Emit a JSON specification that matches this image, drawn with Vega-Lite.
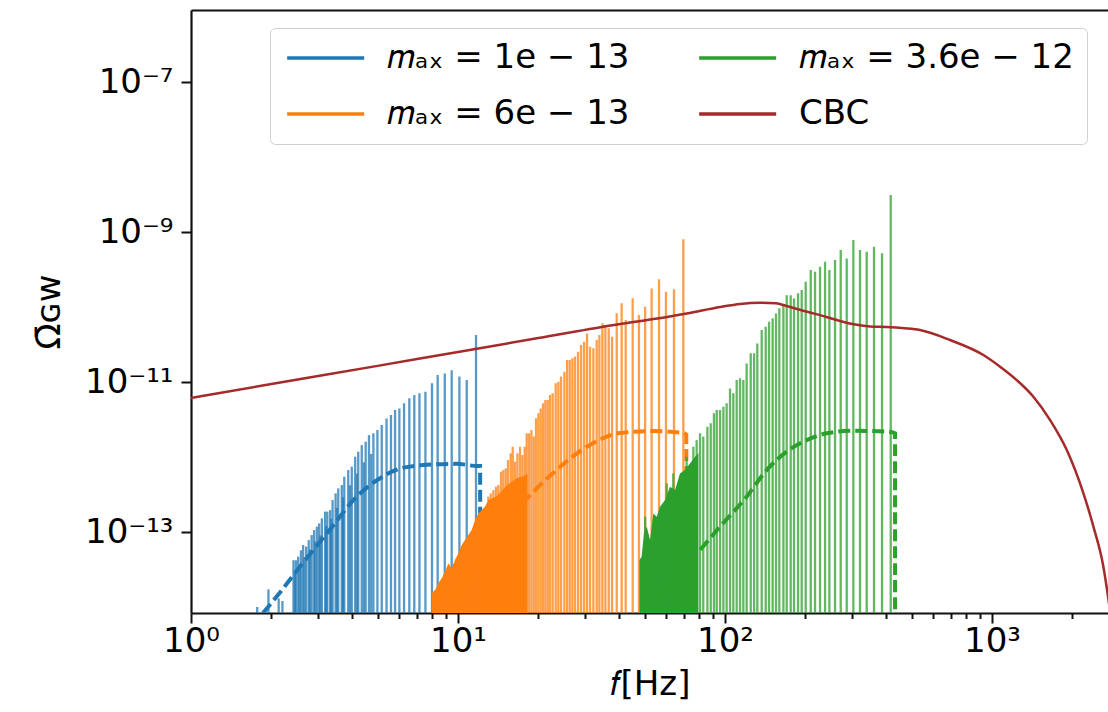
{
  "$schema": "https://vega.github.io/schema/vega-lite/v6.json",
  "width": 917,
  "height": 603,
  "autosize": {"type": "none"},
  "padding": {"left": 191, "top": 10, "right": 0, "bottom": 99},
  "background": "white",
  "config": {
    "view": {"stroke": null},
    "font": "DejaVu Sans",
    "axis": {
      "labelFont": "DejaVu Sans", "titleFont": "DejaVu Sans",
      "labelColor": "#000", "titleColor": "#000",
      "domainColor": "#111", "domainWidth": 2.2,
      "tickColor": "#111", "tickWidth": 2, "grid": false,
      "labelFontSize": 34, "titleFontSize": 34, "titleFontWeight": "normal"
    }
  },
  "datasets": {
    "sp": [
      {"s":"a","f":1.77,"v":1.0e-14},{"s":"a","f":1.95,"v":1.72e-14},{"s":"a","f":2.13,"v":1.3e-14},{"s":"a","f":2.2,"v":1.2e-14},
      {"s":"a","f":2.42,"v":4.2e-14},{"s":"a","f":2.47,"v":4.2e-14},{"s":"a","f":2.52,"v":4.7e-14},{"s":"a","f":2.58,"v":5.7e-14},
      {"s":"a","f":2.63,"v":6.7e-14},{"s":"a","f":2.70,"v":6.4e-14},{"s":"a","f":2.76,"v":7.8e-14},{"s":"a","f":2.83,"v":9.1e-14},
      {"s":"a","f":2.89,"v":1.06e-13},{"s":"a","f":2.96,"v":1.18e-13},{"s":"a","f":3.02,"v":1.30e-13},{"s":"a","f":3.09,"v":1.52e-13},
      {"s":"a","f":3.18,"v":1.87e-13},{"s":"a","f":3.24,"v":1.87e-13},{"s":"a","f":3.32,"v":1.96e-13},{"s":"a","f":3.39,"v":2.67e-13},
      {"s":"a","f":3.48,"v":3.27e-13},{"s":"a","f":3.56,"v":3.82e-13},{"s":"a","f":3.67,"v":4.23e-13},{"s":"a","f":3.75,"v":5.46e-13},
      {"s":"a","f":3.88,"v":6.7e-13},{"s":"a","f":4.00,"v":7.43e-13},{"s":"a","f":4.12,"v":1.01e-12},{"s":"a","f":4.23,"v":1.18e-12},
      {"s":"a","f":4.36,"v":1.44e-12},{"s":"a","f":4.51,"v":1.60e-12},{"s":"a","f":4.64,"v":1.96e-12},{"s":"a","f":4.82,"v":2.07e-12},
      {"s":"a","f":4.99,"v":2.29e-12},{"s":"a","f":5.18,"v":2.67e-12},{"s":"a","f":5.40,"v":3.27e-12},{"s":"a","f":5.61,"v":3.63e-12},
      {"s":"a","f":5.81,"v":4.23e-12},{"s":"a","f":6.03,"v":4.45e-12},{"s":"a","f":6.28,"v":5.19e-12},{"s":"a","f":6.57,"v":6.05e-12},
      {"s":"a","f":6.86,"v":6.7e-12},{"s":"a","f":7.17,"v":7.06e-12},{"s":"a","f":7.55,"v":7.43e-12},{"s":"a","f":7.99,"v":9.6e-12},
      {"s":"a","f":8.39,"v":1.24e-11},{"s":"a","f":8.92,"v":1.30e-11},{"s":"a","f":9.47,"v":1.44e-11},{"s":"a","f":10.12,"v":1.18e-11},
      {"s":"a","f":10.78,"v":1.06e-11},{"s":"a","f":11.68,"v":4.23e-11},
      {"s":"a","f":2.45,"v":3.0e-14},{"s":"a","f":2.55,"v":3.6e-14},{"s":"a","f":2.66,"v":4.6e-14},{"s":"a","f":2.79,"v":5.8e-14},
      {"s":"a","f":2.92,"v":7.5e-14},{"s":"a","f":3.05,"v":9.0e-14},{"s":"a","f":3.21,"v":1.2e-13},{"s":"a","f":3.35,"v":1.5e-13},
      {"s":"a","f":3.52,"v":2.1e-13},{"s":"a","f":3.71,"v":2.9e-13},{"s":"a","f":3.94,"v":4.2e-13},{"s":"a","f":4.18,"v":6.0e-13},
      {"s":"a","f":4.44,"v":8.5e-13},{"s":"a","f":4.73,"v":1.1e-12},
      {"s":"b","f":12.99,"v":2.96e-13},{"s":"b","f":13.26,"v":3.28e-13},{"s":"b","f":13.57,"v":3.63e-13},{"s":"b","f":13.88,"v":4.02e-13},
      {"s":"b","f":14.16,"v":4.23e-13},{"s":"b","f":14.49,"v":6.37e-13},{"s":"b","f":14.78,"v":6.71e-13},{"s":"b","f":15.09,"v":7.06e-13},
      {"s":"b","f":15.39,"v":9.12e-13},{"s":"b","f":15.75,"v":1.12e-12},{"s":"b","f":16.03,"v":1.37e-12},{"s":"b","f":16.35,"v":8.67e-13},
      {"s":"b","f":16.69,"v":1.12e-12},{"s":"b","f":17.07,"v":1.37e-12},{"s":"b","f":17.42,"v":1.06e-12},{"s":"b","f":17.77,"v":1.37e-12},
      {"s":"b","f":18.08,"v":2.07e-12},{"s":"b","f":18.45,"v":2.07e-12},{"s":"b","f":18.83,"v":2.29e-12},{"s":"b","f":19.21,"v":1.87e-12},
      {"s":"b","f":19.60,"v":3.28e-12},{"s":"b","f":20.00,"v":3.82e-12},{"s":"b","f":20.40,"v":4.45e-12},{"s":"b","f":20.82,"v":5.2e-12},
      {"s":"b","f":21.24,"v":5.75e-12},{"s":"b","f":21.67,"v":5.75e-12},{"s":"b","f":22.11,"v":6.71e-12},{"s":"b","f":22.62,"v":7.06e-12},
      {"s":"b","f":23.22,"v":9.6e-12},{"s":"b","f":23.76,"v":1.01e-11},{"s":"b","f":24.31,"v":1.18e-11},{"s":"b","f":25.02,"v":1.37e-11},
      {"s":"b","f":25.61,"v":1.96e-11},{"s":"b","f":26.20,"v":1.96e-11},{"s":"b","f":26.81,"v":2.07e-11},{"s":"b","f":27.43,"v":2.18e-11},
      {"s":"b","f":28.15,"v":2.54e-11},{"s":"b","f":28.89,"v":3.11e-11},{"s":"b","f":29.65,"v":3.45e-11},{"s":"b","f":30.42,"v":4.45e-11},
      {"s":"b","f":31.22,"v":2.96e-11},{"s":"b","f":32.13,"v":2.81e-11},{"s":"b","f":33.07,"v":3.63e-11},{"s":"b","f":33.84,"v":4.23e-11},
      {"s":"b","f":34.73,"v":6.05e-11},{"s":"b","f":35.64,"v":5.75e-11},{"s":"b","f":36.68,"v":5.2e-11},{"s":"b","f":37.75,"v":4.02e-11},
      {"s":"b","f":39.30,"v":8.24e-11},{"s":"b","f":41.0,"v":1.12e-10},{"s":"b","f":42.46,"v":6.71e-11},{"s":"b","f":45.1,"v":1.31e-10},
      {"s":"b","f":47.6,"v":7.8e-11},{"s":"b","f":50.2,"v":1.01e-10},{"s":"b","f":53.1,"v":1.77e-10},{"s":"b","f":56.6,"v":2.34e-10},
      {"s":"b","f":60.1,"v":1.6e-10},{"s":"b","f":64.4,"v":1.72e-10},{"s":"b","f":69.8,"v":7.98e-10},
      {"s":"c","f":50.2,"v":1.6e-13},{"s":"c","f":60.5,"v":4.46e-13},{"s":"c","f":64.0,"v":6.05e-13},{"s":"c","f":71.8,"v":1.01e-12},
      {"s":"c","f":76.1,"v":1.37e-12},{"s":"c","f":78.3,"v":1.68e-12},{"s":"c","f":80.6,"v":2.07e-12},{"s":"c","f":82.9,"v":1.87e-12},
      {"s":"c","f":85.9,"v":2.54e-12},{"s":"c","f":88.4,"v":2.81e-12},{"s":"c","f":90.9,"v":3.82e-12},{"s":"c","f":93.1,"v":4.23e-12},
      {"s":"c","f":95.8,"v":4.23e-12},{"s":"c","f":98.6,"v":4.69e-12},{"s":"c","f":101.4,"v":5.19e-12},{"s":"c","f":104.4,"v":8.2e-12},
      {"s":"c","f":107.4,"v":7.06e-12},{"s":"c","f":110.6,"v":1.06e-11},{"s":"c","f":113.8,"v":1.12e-11},{"s":"c","f":117.1,"v":1.06e-11},
      {"s":"c","f":120.5,"v":1.77e-11},{"s":"c","f":124.8,"v":2.41e-11},{"s":"c","f":128.5,"v":2.41e-11},{"s":"c","f":132.1,"v":3.27e-11},
      {"s":"c","f":137.2,"v":4.93e-11},{"s":"c","f":142.0,"v":5.46e-11},{"s":"c","f":146.2,"v":6.37e-11},{"s":"c","f":150.8,"v":7.06e-11},
      {"s":"c","f":155.2,"v":8.2e-11},{"s":"c","f":159.7,"v":9.6e-11},{"s":"c","f":165.4,"v":1.06e-10},{"s":"c","f":170.2,"v":1.44e-10},
      {"s":"c","f":176.2,"v":1.44e-10},{"s":"c","f":181.3,"v":1.3e-10},{"s":"c","f":187.7,"v":1.52e-10},{"s":"c","f":193.7,"v":1.68e-10},
      {"s":"c","f":200.5,"v":2.17e-10},{"s":"c","f":209.4,"v":3.11e-10},{"s":"c","f":217.3,"v":2.96e-10},{"s":"c","f":226.9,"v":3.44e-10},
      {"s":"c","f":236.9,"v":4.02e-10},{"s":"c","f":245.9,"v":3.11e-10},{"s":"c","f":258.2,"v":4.23e-10},{"s":"c","f":271.2,"v":5.75e-10},
      {"s":"c","f":285.6,"v":4.45e-10},{"s":"c","f":302.4,"v":7.82e-10},{"s":"c","f":320.3,"v":5.75e-10},{"s":"c","f":339.3,"v":5.46e-10},
      {"s":"c","f":361.4,"v":6.37e-10},{"s":"c","f":387.3,"v":5.19e-10},{"s":"c","f":417.4,"v":3.11e-9}
    ],
    "ar": [
      {"s":"b","f":7.97,"v":1.52e-14},{"s":"b","f":8.2,"v":1.69e-14},{"s":"b","f":8.44,"v":2.07e-14},{"s":"b","f":8.69,"v":2.41e-14},
      {"s":"b","f":8.94,"v":2.96e-14},{"s":"b","f":9.2,"v":3.82e-14},{"s":"b","f":9.47,"v":3.28e-14},{"s":"b","f":9.74,"v":4.23e-14},
      {"s":"b","f":10.03,"v":5.2e-14},{"s":"b","f":10.32,"v":6.71e-14},{"s":"b","f":10.62,"v":7.82e-14},{"s":"b","f":10.93,"v":9.12e-14},
      {"s":"b","f":11.25,"v":1.06e-13},{"s":"b","f":11.58,"v":1.45e-13},{"s":"b","f":11.92,"v":1.77e-13},{"s":"b","f":12.27,"v":1.96e-13},
      {"s":"b","f":12.63,"v":2.18e-13},{"s":"b","f":12.99,"v":2.67e-13},{"s":"b","f":13.96,"v":3.0e-13},{"s":"b","f":15.22,"v":4.2e-13},
      {"s":"b","f":16.59,"v":5.2e-13},{"s":"b","f":17.6,"v":5.6e-13},{"s":"b","f":18.2,"v":6.0e-13},
      {"s":"c","f":47.8,"v":4.23e-14},{"s":"c","f":48.7,"v":4.69e-14},{"s":"c","f":49.7,"v":9.6e-14},{"s":"c","f":50.9,"v":1.18e-13},
      {"s":"c","f":52.4,"v":7.82e-14},{"s":"c","f":53.9,"v":1.77e-13},{"s":"c","f":55.5,"v":1.6e-13},{"s":"c","f":57.1,"v":2.17e-13},
      {"s":"c","f":59.6,"v":2.67e-13},{"s":"c","f":62.2,"v":4.02e-13},{"s":"c","f":65.0,"v":3.63e-13},{"s":"c","f":67.8,"v":6.05e-13},
      {"s":"c","f":70.8,"v":6.7e-13},{"s":"c","f":73.9,"v":8.2e-13},{"s":"c","f":77.2,"v":1.01e-12},{"s":"c","f":79.5,"v":1.12e-12}
    ],
    "da": [
      {"s":"a","f":1.86,"v":8.3e-15},{"s":"a","f":2.15,"v":1.55e-14},{"s":"a","f":2.63,"v":3.9e-14},{"s":"a","f":3.31,"v":1.07e-13},
      {"s":"a","f":4.17,"v":2.95e-13},{"s":"a","f":4.97,"v":4.9e-13},{"s":"a","f":5.9,"v":6.8e-13},{"s":"a","f":7.4,"v":7.8e-13},
      {"s":"a","f":9.9,"v":8.1e-13},{"s":"a","f":11.8,"v":7.6e-13},{"s":"a","f":12.1,"v":7.6e-13},{"s":"a","f":12.11,"v":6e-15},
      {"s":"b","f":8.8,"v":8e-15},{"s":"b","f":10.5,"v":2.2e-14},{"s":"b","f":12.8,"v":5.25e-14},{"s":"b","f":17.0,"v":2.15e-13},
      {"s":"b","f":22.7,"v":6.12e-13},{"s":"b","f":30.3,"v":1.36e-12},{"s":"b","f":40.4,"v":2.09e-12},{"s":"b","f":53.8,"v":2.22e-12},
      {"s":"b","f":69.6,"v":2.09e-12},{"s":"b","f":71.6,"v":2.0e-12},{"s":"b","f":71.65,"v":5e-15},
      {"s":"c","f":55,"v":1.2e-14},{"s":"c","f":65,"v":2.4e-14},{"s":"c","f":80.6,"v":5.75e-14},{"s":"c","f":95.8,"v":1.18e-13},
      {"s":"c","f":120.5,"v":2.96e-13},{"s":"c","f":143.2,"v":6.7e-13},{"s":"c","f":170.2,"v":1.18e-12},{"s":"c","f":202.2,"v":1.68e-12},
      {"s":"c","f":240.3,"v":2.07e-12},{"s":"c","f":302.4,"v":2.24e-12},{"s":"c","f":403.1,"v":2.18e-12},{"s":"c","f":433.2,"v":2.07e-12},
      {"s":"c","f":433.3,"v":5e-15}
    ],
    "cbc": [
      {"s":"CBC","f":1,"v":6.12e-12},{"s":"CBC","f":2,"v":9.4e-12},{"s":"CBC","f":5,"v":1.64e-11},{"s":"CBC","f":10,"v":2.52e-11},
      {"s":"CBC","f":20,"v":3.85e-11},{"s":"CBC","f":40,"v":5.89e-11},{"s":"CBC","f":54,"v":6.9e-11},{"s":"CBC","f":72,"v":8.2e-11},
      {"s":"CBC","f":96,"v":1.0e-10},{"s":"CBC","f":114,"v":1.1e-10},{"s":"CBC","f":135,"v":1.14e-10},{"s":"CBC","f":155,"v":1.12e-10},
      {"s":"CBC","f":170,"v":1.03e-10},{"s":"CBC","f":196,"v":8.93e-11},{"s":"CBC","f":227,"v":7.8e-11},{"s":"CBC","f":262,"v":6.7e-11},
      {"s":"CBC","f":300,"v":5.93e-11},{"s":"CBC","f":349,"v":5.5e-11},{"s":"CBC","f":403,"v":5.4e-11},{"s":"CBC","f":470,"v":5.2e-11},
      {"s":"CBC","f":537,"v":4.93e-11},{"s":"CBC","f":696,"v":3.63e-11},{"s":"CBC","f":928,"v":2.29e-11},{"s":"CBC","f":1072,"v":1.6e-11},
      {"s":"CBC","f":1237,"v":1.06e-11},{"s":"CBC","f":1428,"v":6.37e-12},{"s":"CBC","f":1650,"v":3.11e-12},{"s":"CBC","f":1905,"v":1.24e-12},
      {"s":"CBC","f":2199,"v":3.28e-13},{"s":"CBC","f":2397,"v":1.18e-13},{"s":"CBC","f":2612,"v":3.45e-14},{"s":"CBC","f":2720,"v":1.37e-14},
      {"s":"CBC","f":2850,"v":4e-15}
    ]
  },
  "resolve": {"axis": {"x": "independent"}},
  "encoding": {
    "x": {"field": "f", "type": "quantitative", "scale": {"type": "log", "domain": [1, 2718], "nice": false}, "axis": null},
    "y": {"field": "v", "type": "quantitative",
      "scale": {"type": "log", "domain": [8.32e-15, 9.12e-7], "nice": false},
      "axis": {"values": [1e-13, 1e-11, 1e-9, 1e-7], "tickSize": 10, "labelPadding": 8,
        "labelExpr": "datum.value < 1e-12 ? '10⁻¹³' : datum.value < 1e-10 ? '10⁻¹¹' : datum.value < 1e-8 ? '10⁻⁹' : '10⁻⁷'",
        "title": "\u03a9\u0304\u0262\u1d21", "titlePadding": 18}},
    "color": {"field": "s", "type": "nominal",
      "scale": {"domain": ["a", "c", "b", "CBC"], "range": ["#1f77b4", "#2ca02c", "#ff7f0e", "#a52a2a"]},
      "legend": {"orient": "none", "legendX": 79, "legendY": 18, "columns": 2, "title": null,
        "values": ["a", "b", "c", "CBC"],
        "symbolType": "M-1,0H5", "symbolSize": 659, "symbolStrokeWidth": 3.5, "symbolOpacity": 1,
        "labelFont": "DejaVu Sans", "labelFontSize": 34, "labelColor": "#000", "labelOffset": 70, "labelLimit": 600,
        "padding": 13, "rowPadding": 22, "columnPadding": 62,
        "strokeColor": "#d0d0d0", "fillColor": "white", "cornerRadius": 5,
        "labelExpr": "datum.value == 'a' ? '𝑚ₐₓ = 1e − 13' : datum.value == 'b' ? '𝑚ₐₓ = 6e − 13' : datum.value == 'c' ? '𝑚ₐₓ = 3.6e − 12' : 'CBC'"}}
  },
  "layer": [
    {
      "data": {"name": "sp"}, "transform": [{"filter": "datum.s == 'a'"}],
      "mark": {"type": "rule", "strokeWidth": 2.3, "opacity": 0.75, "clip": true},
      "encoding": {
        "x": {"field": "f", "type": "quantitative", "scale": {"type": "log", "domain": [1, 2718], "nice": false},
          "axis": {"orient": "bottom",
            "values": [1,2,3,4,5,6,7,8,9,10,20,30,40,50,60,70,80,90,100,200,300,400,500,600,700,800,900,1000,2000],
            "labelExpr": "datum.value == 1 ? '10⁰' : datum.value == 10 ? '10¹' : datum.value == 100 ? '10²' : datum.value == 1000 ? '10³' : ''",
            "tickSize": {"condition": {"test": "datum.value == 1 || datum.value == 10 || datum.value == 100 || datum.value == 1000", "value": 10}, "value": 5.5},
            "labelPadding": 1, "title": "𝑓[Hz]", "titlePadding": 9, "labelFlush": false, "labelOverlap": false}},
        "y2": {"datum": 1e-15}
      }
    },
    {
      "data": {"name": "da"}, "transform": [{"filter": "datum.s == 'a'"}],
      "mark": {"type": "line", "strokeWidth": 4, "strokeDash": [12, 5], "interpolate": "monotone", "clip": true},
      "encoding": {}
    },
    {
      "data": {"name": "ar"}, "transform": [{"filter": "datum.s == 'b'"}],
      "mark": {"type": "area", "clip": true},
      "encoding": {"y2": {"datum": 1e-15}}
    },
    {
      "data": {"name": "sp"}, "transform": [{"filter": "datum.s == 'b'"}],
      "mark": {"type": "rule", "strokeWidth": 2.3, "opacity": 0.75, "clip": true},
      "encoding": {"y2": {"datum": 1e-15}}
    },
    {
      "data": {"name": "da"}, "transform": [{"filter": "datum.s == 'b'"}],
      "mark": {"type": "line", "strokeWidth": 4, "strokeDash": [12, 5], "interpolate": "monotone", "clip": true},
      "encoding": {}
    },
    {
      "data": {"name": "ar"}, "transform": [{"filter": "datum.s == 'c'"}],
      "mark": {"type": "area", "clip": true},
      "encoding": {"y2": {"datum": 1e-15}}
    },
    {
      "data": {"name": "sp"}, "transform": [{"filter": "datum.s == 'c'"}],
      "mark": {"type": "rule", "strokeWidth": 2.3, "opacity": 0.75, "clip": true},
      "encoding": {"y2": {"datum": 1e-15}}
    },
    {
      "data": {"name": "da"}, "transform": [{"filter": "datum.s == 'c'"}],
      "mark": {"type": "line", "strokeWidth": 4, "strokeDash": [12, 5], "interpolate": "monotone", "clip": true},
      "encoding": {}
    },
    {
      "data": {"name": "cbc"},
      "mark": {"type": "line", "strokeWidth": 2.5, "interpolate": "monotone", "clip": true},
      "encoding": {
        "x": {"field": "f", "type": "quantitative", "scale": {"type": "log", "domain": [1, 2718], "nice": false},
          "axis": {"orient": "top", "labels": false, "ticks": false, "title": null, "domain": true}}
      }
    }
  ]
}
